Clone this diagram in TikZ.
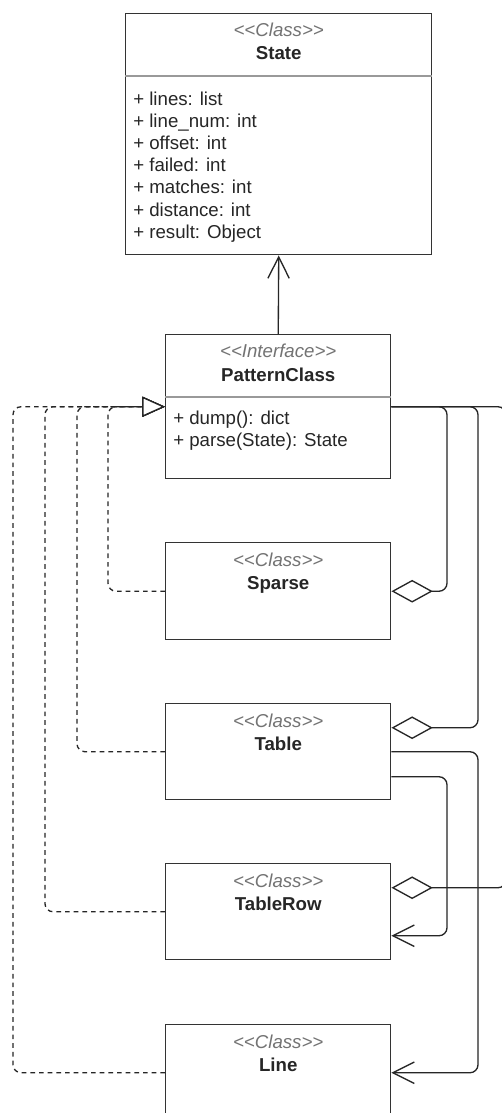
\documentclass[tikz,border=0pt]{standalone}
\usepackage{fontspec}
\setmainfont{Liberation Sans}
\usetikzlibrary{arrows.meta,calc}

\begin{document}
\begin{tikzpicture}[x=0.75pt,y=0.75pt,yscale=-1,
  classbox/.style={draw=black!80,line width=1.1pt,fill=white,anchor=north west,inner sep=0pt,minimum width=168.75pt},
  stereo/.style={anchor=base,inner sep=0pt,font=\fontsize{14}{16.6}\selectfont\itshape,text=black!55},
  cname/.style={anchor=base,inner sep=0pt,font=\fontsize{14}{16.6}\selectfont\bfseries,text=black!85},
  member/.style={anchor=base west,inner sep=0pt,font=\fontsize{14}{16.6}\selectfont,text=black!85},
  divider/.style={draw=black!40,line width=1pt},
  link/.style={draw=black!85,line width=1pt,rounded corners=6pt},
  realize/.style={link,dash pattern=on 3.5pt off 3pt,-{Triangle[open,length=17pt,width=15pt,fill=white]}},
  assoc/.style={link,-{Straight Barb[length=16pt,width=16pt]}},
  aggr/.style={link,{Diamond[open,length=31pt,width=17pt,fill=white]}-},
]
\useasboundingbox (0,0) rectangle (502,1113);
\clip (0,0) rectangle (502,1113);
\fill[white] (0,0) rectangle (502,1113);

% State
\node[classbox,minimum width=229.5pt,minimum height=180.75pt] (state) at (125,13) {};
\node[stereo] (state-st) at ($(state.north)+(0,24)$) {<{}<Class>{}>};
\node[cname] (state-nm) at ($(state.north)+(0,47)$) {State};
\draw[divider] ($(state.north west)+(0,63)$) -- ($(state.north east)+(0,63)$);
\foreach \attr [count=\i from 0] in {+ lines: list,+ line\_num: int,+ offset: int,+ failed: int,+ matches: int,+ distance: int,+ result: Object}
  \node[member] (state-\i) at ($(state.north west)+(8,92+22.2*\i)$) {\attr};

% PatternClass
\node[classbox,minimum height=108pt] (pattern) at (165,334) {};
\node[stereo] (pattern-st) at ($(pattern.north)+(0,23)$) {<{}<Interface>{}>};
\node[cname] (pattern-nm) at ($(pattern.north)+(0,47)$) {PatternClass};
\draw[divider] ($(pattern.north west)+(0,63)$) -- ($(pattern.north east)+(0,63)$);
\node[member] (pattern-0) at ($(pattern.north west)+(8,90)$) {+ dump(): dict};
\node[member] (pattern-1) at ($(pattern.north west)+(8,112.2)$) {+ parse(State): State};

% Sparse
\node[classbox,minimum height=72.75pt] (sparse) at (165,542) {};
\node[stereo] (sparse-st) at ($(sparse.north)+(0,24)$) {<{}<Class>{}>};
\node[cname] (sparse-nm) at ($(sparse.north)+(0,47)$) {Sparse};

% Table
\node[classbox,minimum height=72pt] (table) at (165,703) {};
\node[stereo] (table-st) at ($(table.north)+(0,24)$) {<{}<Class>{}>};
\node[cname] (table-nm) at ($(table.north)+(0,47)$) {Table};

% TableRow
\node[classbox,minimum height=72pt] (tablerow) at (165,863) {};
\node[stereo] (tablerow-st) at ($(tablerow.north)+(0,24)$) {<{}<Class>{}>};
\node[cname] (tablerow-nm) at ($(tablerow.north)+(0,47)$) {TableRow};

% Line
\node[classbox,minimum height=72pt] (line) at (165,1024) {};
\node[stereo] (line-st) at ($(line.north)+(0,24)$) {<{}<Class>{}>};
\node[cname] (line-nm) at ($(line.north)+(0,47)$) {Line};

% rails
\coordinate (railA) at (108,0);
\coordinate (railB) at (77,0);
\coordinate (railC) at (45,0);
\coordinate (railD) at (13,0);
\coordinate (railE) at (447,0);
\coordinate (railF) at (478,0);
\coordinate (railG) at (506,0);
\coordinate (tab-agg) at ($(table.east)+(0,-24)$);
\coordinate (tab-out) at ($(table.east)+(0,25)$);
\coordinate (row-agg) at ($(tablerow.east)+(0,-24)$);
\coordinate (row-in) at ($(tablerow.east)+(0,24)$);

% PatternClass uses State
\draw[assoc] (pattern.north) -- (state.south);

% realizations
\draw[realize] (sparse.west) -| (railA |- pattern.west) -- (pattern.west);
\draw[realize] (table.west) -| (railB |- pattern.west) -- (pattern.west);
\draw[realize] (tablerow.west) -| (railC |- pattern.west) -- (pattern.west);
\draw[realize] (line.west) -| (railD |- pattern.west) -- (pattern.west);

% aggregations
\draw[aggr] (sparse.east) -| (railE |- pattern.east) -- (pattern.east);
\draw[aggr] (tab-agg) -| (railF |- pattern.east) -- (pattern.east);
\draw[aggr] (row-agg) -| (railG |- pattern.east) -- (pattern.east);

% associations
\draw[assoc] (tab-out) -| (railE |- row-in) -- (row-in);
\draw[assoc] (table.east) -| (railF |- line.east) -- (line.east);

\end{tikzpicture}
\end{document}
